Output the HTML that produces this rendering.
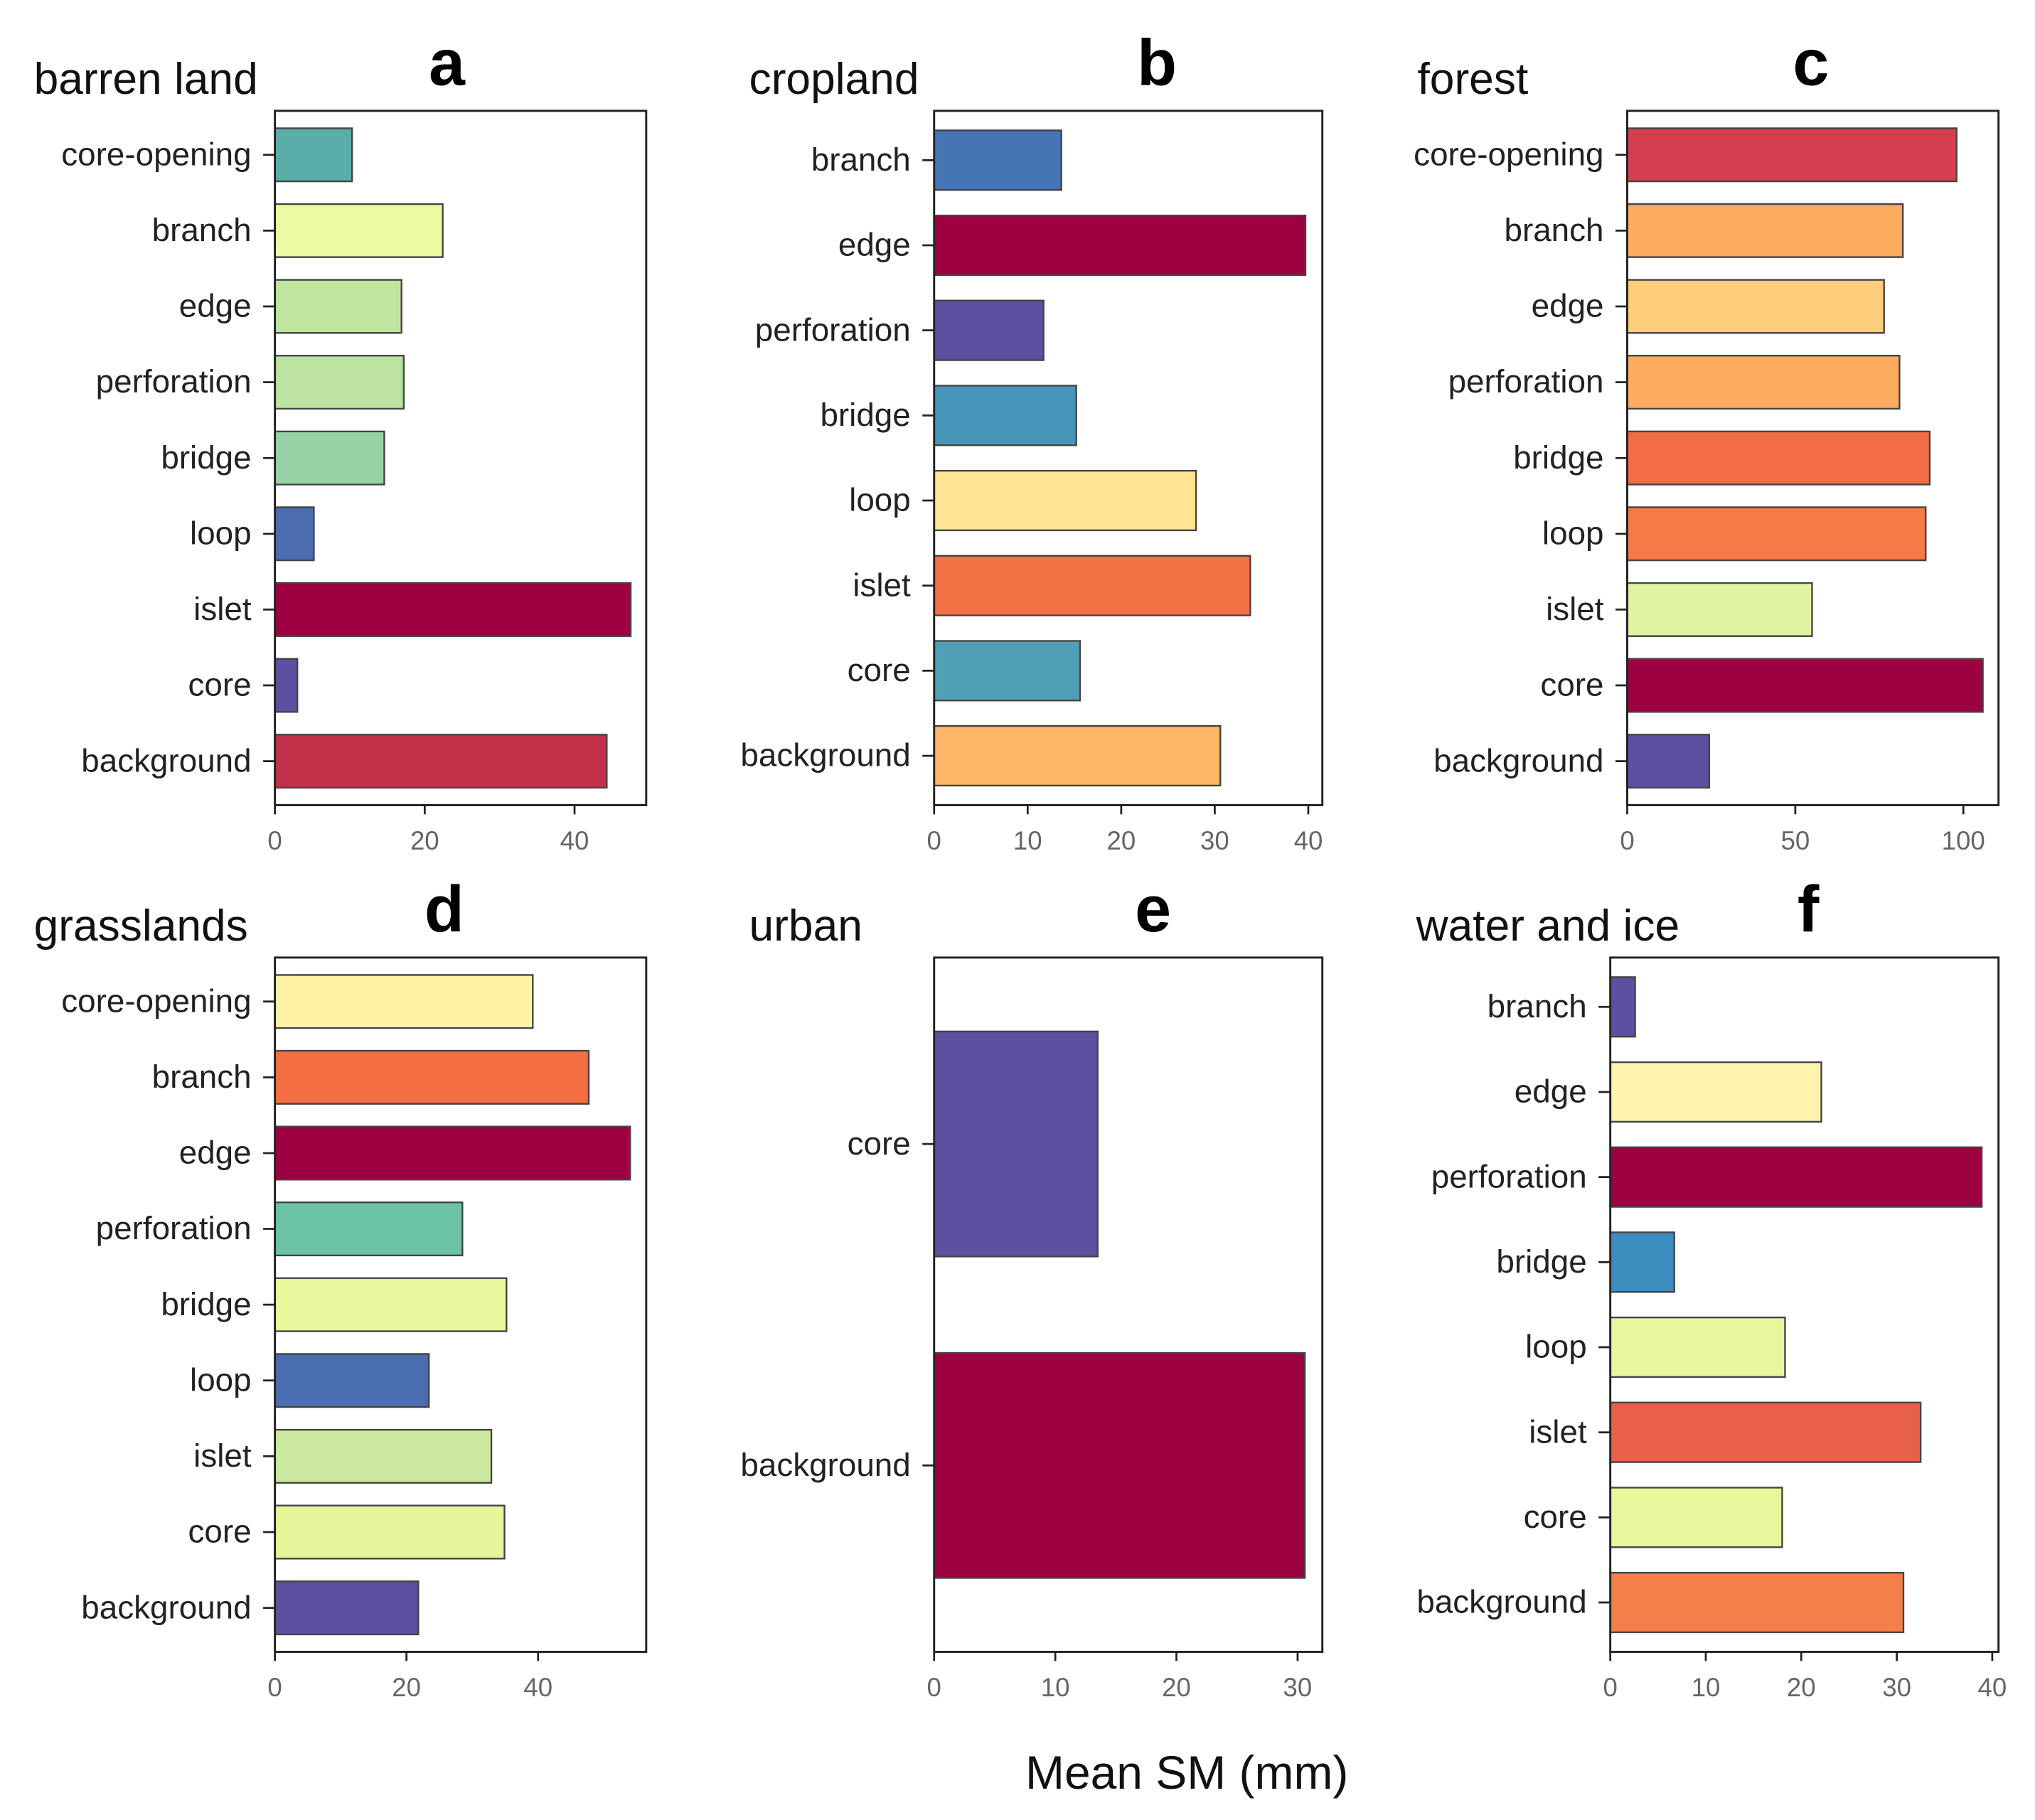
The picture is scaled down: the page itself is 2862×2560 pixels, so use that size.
<!DOCTYPE html>
<html><head><meta charset="utf-8"><style>
html,body{margin:0;padding:0;background:#fff;}
svg{display:block;}
text{font-family:"Liberation Sans",Arial,sans-serif;}
</style></head><body>
<svg id="fig" width="2862" height="2560" viewBox="0 0 1562 1397" xmlns="http://www.w3.org/2000/svg">
<rect x="0" y="0" width="1562" height="1397" fill="#fff"/>
<text x="911" y="1373" font-size="36" text-anchor="middle" fill="#111">Mean SM (mm)</text>
</svg>
<script>
// Panel a: barren land
const catsA = ["core-opening","branch","edge","perforation","bridge","loop","islet","core","background"];
const valsA = [10.3,22.4,16.9,17.2,14.6,5.2,47.5,3.0,44.3];
const colsA = ["#5aaea9","#eefaa3","#bfe5a0","#bce4a0","#96d3a4","#4b6db0","#9e0142","#5e4fa2","#c2304a"];
const ticksA = [0,20,40];
// Panel b: cropland
const catsB = ["branch","edge","perforation","bridge","loop","islet","core","background"];
const valsB = [13.6,39.7,11.7,15.2,28.0,33.8,15.6,30.6];
const colsB = ["#4575b4","#9e0142","#5e4fa2","#4596b9","#fee493","#f47245","#4fa0b5","#fdb665"];
const ticksB = [0,10,20,30,40];
// Panel c: forest
const catsC = ["core-opening","branch","edge","perforation","bridge","loop","islet","core","background"];
const valsC = [98,82,76.4,81,90,88.8,55,105.8,24.4];
const colsC = ["#d53e4f","#fdab5f","#fece7c","#fdab5f","#f26c44","#f47a48","#e0f3a1","#9e0142","#5e4fa2"];
const ticksC = [0,50,100];
// Panel d: grasslands
const catsD = ["core-opening","branch","edge","perforation","bridge","loop","islet","core","background"];
const valsD = [39.2,47.7,54,28.5,35.2,23.4,32.9,34.9,21.8];
const colsD = ["#fff3a6","#f46d43","#9e0142","#6cc4a4","#e9f79d","#4a6cb0","#cbeaa0","#e6f59a","#5e4fa2"];
const ticksD = [0,20,40];
// Panel e: urban
const catsE = ["core","background"];
const valsE = [13.5,30.6];
const colsE = ["#5e4fa2","#9e0142"];
const ticksE = [0,10,20,30];
// Panel f: water and ice
const catsF = ["branch","edge","perforation","bridge","loop","islet","core","background"];
const valsF = [2.6,22.1,38.9,6.7,18.3,32.5,18.0,30.7];
const colsF = ["#5e4fa2","#fff3ad","#9e0142","#3d8dbf","#e8f79b","#e9604a","#e8f79b","#f57f4a"];
const ticksF = [0,10,20,30,40];

const NS="http://www.w3.org/2000/svg";
const svg=document.getElementById('fig');
function mk(tag,attrs,parent){const e=document.createElementNS(NS,tag);for(const k in attrs)e.setAttribute(k,attrs[k]);(parent||svg).appendChild(e);return e;}

function panel(cfg,cats,vals,cols,ticks){
  const g=mk('g',{});
  
  
  const L=cfg.x0,R=cfg.x1,T=cfg.y0,B=cfg.y1;
  const xs=v=>L+(v-0)*cfg.px;
  const n=cats.length,p=0.58;
  const step=(B-T)/(n-1+2*p);
  const ys=i=>T+p*step+i*step;
  const bh=step*0.7;
  const t=mk('text',{x:cfg.tx,y:T-13,'font-size':34,fill:'#111'},g);t.textContent=cfg.title;
  
  
  const lt=mk('text',{x:cfg.lx,y:T-20,'font-size':50,'font-weight':'bold','text-anchor':'middle',fill:'#000'},g);lt.textContent=cfg.letter;
  
  
  cats.forEach((c,i)=>{
    const r=mk('rect',{x:L,y:ys(i)-bh/2,width:xs(vals[i])-L,height:bh,fill:cols[i],stroke:'#444','stroke-width':1.3},g);
    
    
    mk('line',{x1:L-9,x2:L,y1:ys(i),y2:ys(i),stroke:'#222','stroke-width':1.5},g);
    const tl=mk('text',{x:L-18,y:ys(i)+8,'font-size':25,'text-anchor':'end',fill:'#222'},g);tl.textContent=c;
    
    
  });
  ticks.forEach(v=>{
    mk('line',{x1:xs(v),x2:xs(v),y1:B,y2:B+7,stroke:'#222','stroke-width':1.5},g);
    const tt=mk('text',{x:xs(v),y:B+34,'font-size':20,'text-anchor':'middle',fill:'#666'},g);tt.textContent=v;
    
    
  });
  const fr=mk('rect',{x:L,y:T,width:R-L,height:B-T,fill:'none',stroke:'#222','stroke-width':1.6},g);
  
  
}
panel({x0:211,x1:496,y0:85,y1:618,px:5.75,title:'barren land',tx:26,lx:343,letter:'a'},catsA,valsA,colsA,ticksA);
panel({x0:717,x1:1015,y0:85,y1:618,px:7.18,title:'cropland',tx:575,lx:888,letter:'b'},catsB,valsB,colsB,ticksB);
panel({x0:1249,x1:1534,y0:85,y1:618,px:2.58,title:'forest',tx:1088,lx:1390,letter:'c'},catsC,valsC,colsC,ticksC);
panel({x0:211,x1:496,y0:735,y1:1268,px:5.05,title:'grasslands',tx:26,lx:341,letter:'d'},catsD,valsD,colsD,ticksD);
panel({x0:717,x1:1015,y0:735,y1:1268,px:9.3,title:'urban',tx:575,lx:885,letter:'e'},catsE,valsE,colsE,ticksE);
panel({x0:1236,x1:1534,y0:735,y1:1268,px:7.33,title:'water and ice',tx:1087,lx:1388,letter:'f'},catsF,valsF,colsF,ticksF);
</script>
</body></html>
